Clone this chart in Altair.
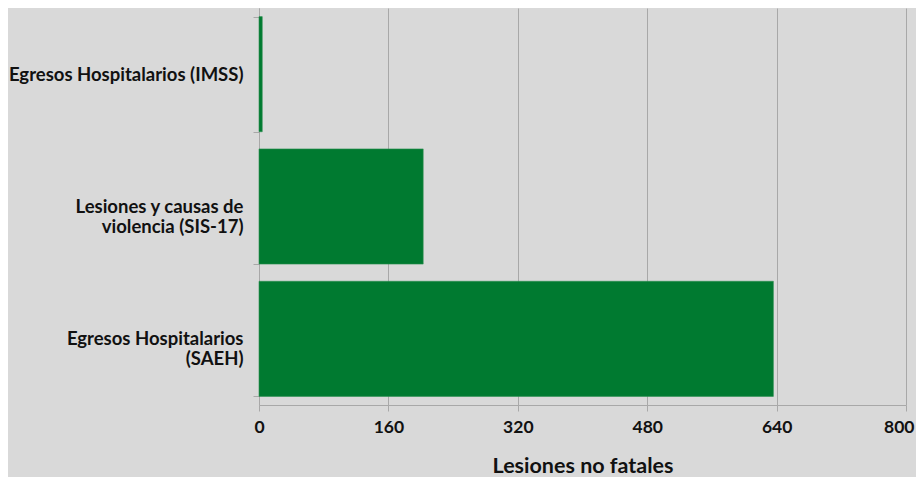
import altair as alt
import pandas as pd

categories = [
    "Egresos Hospitalarios (IMSS)",
    "Lesiones y causas de\nviolencia (SIS-17)",
    "Egresos Hospitalarios\n(SAEH)",
]
values = [4, 203, 636]
x_ticks = [0, 160, 320, 480, 640, 800]

df = pd.DataFrame({"fuente": categories, "lesiones": values})

FONT = "Lato"

chart = (
    alt.Chart(df)
    .mark_bar(color="#007a30", stroke="#2a8f4f", strokeWidth=0.6)
    .encode(
        x=alt.X(
            "lesiones:Q",
            scale=alt.Scale(domain=[0, 800], nice=False),
            axis=alt.Axis(
                values=x_ticks,
                title="Lesiones no fatales",
                titleFontSize=21.5,
                titleFontWeight="bold",
                titleFont=FONT,
                titleColor="#111111",
                titlePadding=20,
                labelFontSize=17.5,
                labelFontWeight="bold",
                labelFont=FONT,
                labelColor="#111111",
                labelPadding=7,
                labelFlush=False,
                labelAlign=alt.ExprRef("datum.value >= 800 ? 'right' : 'center'"),
                labelOffset=alt.ExprRef("datum.value >= 800 ? 8 : 0"),
                grid=True,
                gridColor="#a8a8a8",
                gridWidth=1,
                domainColor="#a8a8a8",
                tickColor="#a8a8a8",
                tickSize=6,
            ),
        ),
        y=alt.Y(
            "fuente:N",
            sort=categories,
            scale=alt.Scale(paddingInner=0.13, paddingOuter=0.065),
            axis=alt.Axis(
                title=None,
                labelExpr="split(datum.label, '\\n')",
                labelFontSize=18.5,
                labelFontWeight="bold",
                labelFont=FONT,
                labelColor="#111111",
                labelLineHeight=20,
                labelPadding=10,
                labelLimit=400,
                tickBand="extent",
                domainColor="#a8a8a8",
                tickColor="#a8a8a8",
                tickSize=6,
                grid=False,
            ),
        ),
    )
    .properties(
        width=647,
        height=397,
        background="#d9d9d9",
        padding={"left": 251, "top": 0, "right": 10, "bottom": 72},
        autosize=alt.AutoSizeParams(type="none"),
    )
    .configure_view(stroke=None)
)

chart.save("out.html", embed_options={"renderer": "svg", "actions": False})
